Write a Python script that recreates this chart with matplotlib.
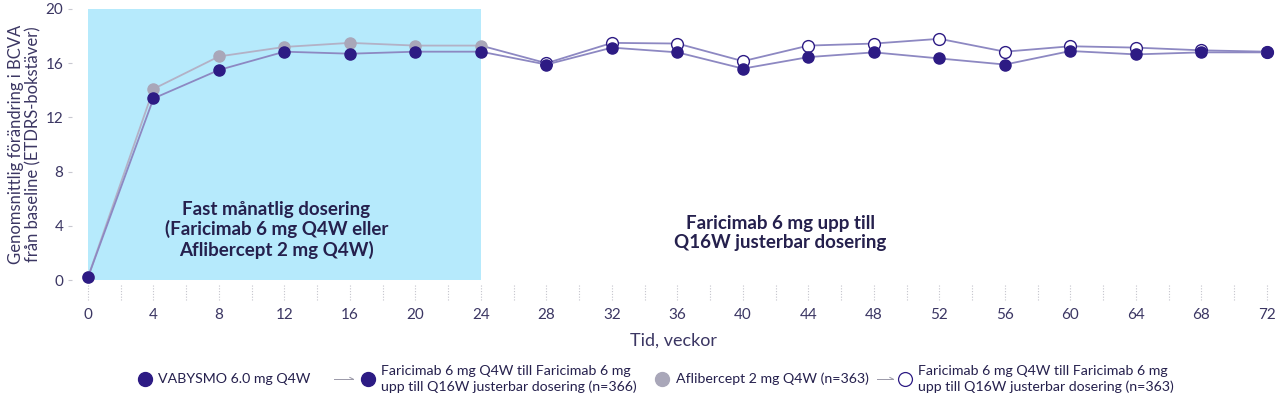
import matplotlib
matplotlib.use('Agg')
import matplotlib.pyplot as plt
from matplotlib.lines import Line2D

plt.rcParams['font.family'] = ['Lato', 'DejaVu Sans']

weeks = [0, 4, 8, 12, 16, 20, 24, 28, 32, 36, 40, 44, 48, 52, 56, 60, 64, 68, 72]
faricimab = [0.2, 13.4, 15.5, 16.85, 16.7, 16.85, 16.85, 15.9, 17.15, 16.8, 15.6,
             16.45, 16.8, 16.35, 15.9, 16.9, 16.65, 16.8, 16.8]
aflibercept = [0.2, 14.1, 16.5, 17.2, 17.5, 17.3, 17.3, 16.0, 17.5, 17.45, 16.15,
               17.3, 17.45, 17.8, 16.85, 17.25, 17.15, 16.95, 16.85]
switch_week = 24

dark = '#2d1b84'
line_col = '#8d88c2'
gray = '#a9a7b9'
shade = '#b6eafc'
txt = '#25204d'
tick_col = '#3b3663'

fig = plt.figure(figsize=(12.8, 3.99), dpi=100)
ax = fig.add_axes([71.6 / 1280, 119 / 399, 73.5 * 16.375 / 1280, 271 / 399])
ax.set_xlim(-1, 72.5)
ax.set_ylim(0, 20)

ax.fill_between([0, switch_week], 0, 20, color=shade, lw=0, zorder=0)

# aflibercept line, gray in the fixed phase and purple afterwards
i24 = weeks.index(switch_week)
ax.plot(weeks[:i24 + 1], aflibercept[:i24 + 1], color='#b3b1c6', lw=1.3, zorder=2)
ax.plot(weeks[i24:], aflibercept[i24:], color=line_col, lw=1.3, zorder=2)
ax.plot(weeks[:i24 + 1], aflibercept[:i24 + 1], 'o', color=gray, ms=8, zorder=3, clip_on=False)
ax.plot(weeks[i24 + 1:], aflibercept[i24 + 1:], 'o', mfc='white', mec=dark, mew=1.0, ms=8.5, zorder=3)

ax.plot(weeks, faricimab, color=line_col, lw=1.3, zorder=4)
ax.plot(weeks, faricimab, 'o', color=dark, ms=8, zorder=5, clip_on=False)

ax.set_xticks(range(0, 73, 4))
ax.set_yticks(range(0, 21, 4))
ax.tick_params(axis='x', length=0, pad=20, labelsize=11, labelcolor=tick_col)
ax.tick_params(axis='y', length=3, width=0.8, color='#c8c8d0', pad=3, labelsize=11, labelcolor=tick_col)
for s in ax.spines.values():
    s.set_visible(False)

# dotted tick lines below the axis every 2 weeks
ax.vlines(range(0, 73, 2), -0.02, -0.075, transform=ax.get_xaxis_transform(),
          colors='#c4c4cc', linestyles=(0, (1, 1.5)), lw=0.8, clip_on=False)

ax.set_xlabel('Tid, veckor', fontsize=13, color=tick_col, labelpad=8)
ax.set_ylabel('Genomsnittlig förändring i BCVA\nfrån baseline (ETDRS-bokstäver)',
              fontsize=12, color=tick_col, labelpad=3, linespacing=1.1)

ax.text(11.5, 3.7, 'Fast månatlig dosering\n(Faricimab 6 mg Q4W eller\nAflibercept 2 mg Q4W)',
        ha='center', va='center', fontsize=13.5, fontweight='bold', color=txt, linespacing=1.15)
ax.text(42.3, 3.5, 'Faricimab 6 mg upp till\nQ16W justerbar dosering',
        ha='center', va='center', fontsize=13.5, fontweight='bold', color=txt, linespacing=1.15)

# legend row
ly = 1 - 379 / 399
def fmark(x, **kw):
    fig.add_artist(Line2D([x / 1280], [ly], marker='o', ms=10, ls='', transform=fig.transFigure, **kw))

def farrow(x0, x1):
    fig.add_artist(Line2D([x0 / 1280, x1 / 1280], [ly, ly], color='#9a98a8', lw=0.7,
                          transform=fig.transFigure))
    fig.add_artist(Line2D([x1 / 1280 - 0.0025, x1 / 1280], [ly + 0.004, ly], color='#9a98a8', lw=0.7,
                          transform=fig.transFigure))

fs = 10.2
fmark(145, color=dark)
fig.text(158 / 1280, ly, 'VABYSMO 6.0 mg Q4W', fontsize=fs, color=txt, va='center')
farrow(334, 353)
fmark(368, color=dark)
fig.text(381 / 1280, ly, 'Faricimab 6 mg Q4W till Faricimab 6 mg\nupp till Q16W justerbar dosering (n=366)',
         fontsize=fs, color=txt, va='center', linespacing=1.25)
fmark(662, color=gray)
fig.text(676 / 1280, ly, 'Aflibercept 2 mg Q4W (n=363)', fontsize=fs, color=txt, va='center')
farrow(877, 893)
fmark(905, mfc='white', mec=dark, mew=0.9)
fig.text(918 / 1280, ly, 'Faricimab 6 mg Q4W till Faricimab 6 mg\nupp till Q16W justerbar dosering (n=363)',
         fontsize=fs, color=txt, va='center', linespacing=1.25)

fig.savefig('out.png', dpi=100)
